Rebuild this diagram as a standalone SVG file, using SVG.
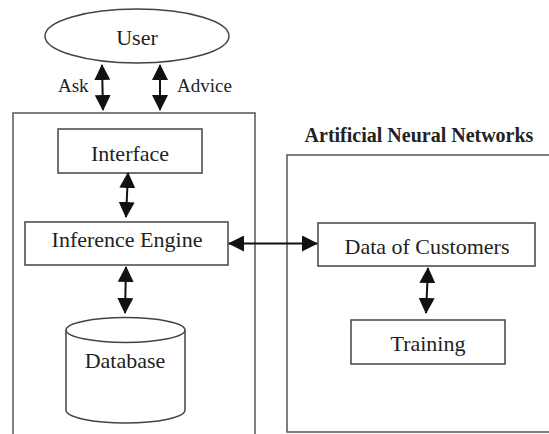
<svg xmlns="http://www.w3.org/2000/svg" width="549" height="434" viewBox="0 0 549 434">
<defs>
<style>
.box{fill:#fff;stroke:#444;stroke-width:1.5}
.frame{fill:none;stroke:#555;stroke-width:1.5}
.t{font-family:"Liberation Serif","Times New Roman",serif;font-size:22px;fill:#222;text-anchor:middle}
.s{font-family:"Liberation Serif","Times New Roman",serif;font-size:19px;fill:#222}
.b{font-family:"Liberation Serif","Times New Roman",serif;font-size:20px;font-weight:bold;fill:#222;text-anchor:middle}
.c{stroke:#111;stroke-width:2;fill:none;marker-start:url(#ah);marker-end:url(#ah)}
</style>
<marker id="ah" markerUnits="userSpaceOnUse" markerWidth="16" markerHeight="16" viewBox="0 0 16 16" refX="15" refY="8" orient="auto-start-reverse">
<path d="M0,0 L16,8 L0,16 Z" fill="#111"/>
</marker>
</defs>
<g id="user">
<ellipse cx="137" cy="36" rx="92" ry="27" class="box"/>
<text x="137" y="45" class="t">User</text>
</g>
<g id="expert-system">
<path d="M13,434 L13,113 L255,113 L255,434" class="frame"/>
</g>
<g id="ann">
<path d="M549,155 L287,155 L287,432 L549,432" class="frame"/>
<text x="419" y="142" class="b">Artificial Neural Networks</text>
</g>
<g id="interface">
<rect x="58" y="129" width="144" height="44" class="box"/>
<text x="130" y="161" class="t">Interface</text>
</g>
<g id="inference-engine">
<rect x="25" y="222" width="203" height="43" class="box"/>
<text x="127" y="247" class="t">Inference Engine</text>
</g>
<g id="database">
<path d="M66,330 L66,410 A59.5,13 0 0 0 185,410 L185,330" class="box"/>
<ellipse cx="125.5" cy="330" rx="59.5" ry="12.5" class="box"/>
<text x="125" y="368" class="t">Database</text>
</g>
<g id="data-of-customers">
<rect x="318" y="223" width="217" height="43" class="box"/>
<text x="427" y="254" class="t">Data of Customers</text>
</g>
<g id="training">
<rect x="351" y="320" width="154" height="44" class="box"/>
<text x="428" y="351" class="t">Training</text>
</g>
<g id="labels">
<text x="58" y="92" class="s">Ask</text>
<text x="177" y="92" class="s">Advice</text>
</g>
<g id="connectors">
<line x1="102" y1="65" x2="103" y2="110" class="c"/>
<line x1="160" y1="65" x2="160" y2="110" class="c"/>
<line x1="128" y1="173" x2="126" y2="217" class="c"/>
<line x1="126" y1="267" x2="125" y2="313" class="c"/>
<line x1="229" y1="243.5" x2="317" y2="243.5" class="c"/>
<line x1="428" y1="268" x2="426" y2="313" class="c"/>
</g>
</svg>
